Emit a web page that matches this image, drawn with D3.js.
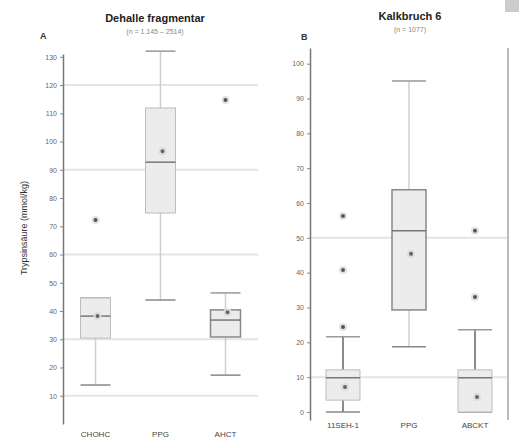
<!DOCTYPE html>
<html>
<head>
<meta charset="utf-8">
<script src="https://cdn.jsdelivr.net/npm/d3@7"></script>
<style>
  body { margin: 0; background: #fff; }
  text { font-family: "Liberation Sans", Arial, sans-serif; }
</style>
</head>
<body>
<svg id="chart" width="519" height="447"></svg>
<script>
// panel A
var catsA = ["CHOHC", "PPG", "AHCT"];
var boxA = [
  { lo: 13.8, q1: 30.4, med: 38.2, q3: 44.6, hi: 44.6 },
  { lo: 43.9, q1: 74.7, med: 92.7, q3: 111.9, hi: 132 },
  { lo: 17.3, q1: 30.8, med: 36.8, q3: 40.4, hi: 46.4 }
];
var meanA = [38.2, 96.6, 39.6];
var outA = [[72.2], [], [114.7]];
var ticksA = [10, 20, 30, 40, 50, 60, 70, 80, 90, 100, 110, 120, 130];
var gridA = [120, 90, 60, 30, 10];

// panel B
var catsB = ["11SEH-1", "PPG", "ABCKT"];
var boxB = [
  { lo: 0, q1: 3.4, med: 9.8, q3: 12.1, hi: 21.6 },
  { lo: 18.7, q1: 29.3, med: 52.0, q3: 63.8, hi: 95 },
  { lo: 0, q1: 0, med: 9.8, q3: 12.1, hi: 23.6 }
];
var meanB = [7.2, 45.4, 4.3];
var outB = [[56.3, 40.8, 24.4], [], [52.0, 33.0]];
var ticksB = [0, 10, 20, 30, 40, 50, 60, 70, 80, 90, 100];
var gridB = [50, 10];

var svg = d3.select("#chart");

function panel(opt) {
  var g = svg.append("g");

  var x = d3.scalePoint().domain(opt.cats).range(opt.xr).padding(0.5);
  var y = d3.scaleLinear().domain(opt.dom).range(opt.yr);

  // grid lines
  g.selectAll(".grid").data(opt.grid).enter().append("line")
    .attr("x1", opt.xr[0]).attr("x2", opt.xr[1])
    .attr("y1", function (d) { return y(d); })
    .attr("y2", function (d) { return y(d); })
    .style("stroke", "#e4e4e4").style("stroke-width", 2);

  var bw = opt.bw;
  var box = g.selectAll(".box").data(opt.box).enter().append("g")
    .attr("transform", function (d, i) { return "translate(" + x(opt.cats[i]) + ",0)"; });

  // whiskers
  box.append("line")
    .attr("x1", 0).attr("x2", 0)
    .attr("y1", function (d) { return y(d.hi); })
    .attr("y2", function (d) { return y(d.lo); })
    .style("stroke", function (d, i) { return opt.dark[i] ? "#666" : "#cfcfcf"; })
    .style("stroke-width", 1.5);
  box.append("line")
    .attr("x1", -bw / 2).attr("x2", bw / 2)
    .attr("y1", function (d) { return y(d.lo); })
    .attr("y2", function (d) { return y(d.lo); })
    .style("stroke", "#888").style("stroke-width", 1.5);
  box.append("line")
    .attr("x1", -bw / 2).attr("x2", bw / 2)
    .attr("y1", function (d) { return y(d.hi); })
    .attr("y2", function (d) { return y(d.hi); })
    .style("stroke", "#999").style("stroke-width", 1.5);

  // box
  box.append("rect")
    .attr("x", -bw / 2).attr("width", bw)
    .attr("y", function (d) { return y(d.q3); })
    .attr("height", function (d) { return y(d.q1) - y(d.q3); })
    .style("fill", "#ececec")
    .style("stroke", function (d, i) { return opt.edge[i] ? "#888" : "#bdbdbd"; })
    .style("stroke-width", function (d, i) { return opt.edge[i] ? 1.5 : 1; });

  box.append("line")
    .attr("x1", -bw / 2).attr("x2", bw / 2)
    .attr("y1", function (d) { return y(d.med); })
    .attr("y2", function (d) { return y(d.med); })
    .style("stroke", "#777").style("stroke-width", 1.5);

  // means
  g.selectAll(".mean").data(opt.mean).enter().append("circle")
    .attr("cx", function (d, i) { return x(opt.cats[i]) + 2; })
    .attr("cy", function (d) { return y(d); })
    .attr("r", 3)
    .style("fill", "#666").style("stroke", "#ddd").style("stroke-width", 2);

  // outliers
  opt.out.forEach(function (arr, i) {
    g.selectAll(null).data(arr).enter().append("circle")
      .attr("cx", x(opt.cats[i]))
      .attr("cy", function (d) { return y(d); })
      .attr("r", 3)
      .style("fill", "#555").style("stroke", "#e2e2e2").style("stroke-width", 2);
  });

  // axis
  var ax = g.append("g")
    .attr("transform", "translate(" + opt.xr[0] + ",0)")
    .call(d3.axisLeft(y).tickValues(opt.ticks).tickSize(3).tickSizeOuter(0));
  ax.select(".domain").style("stroke", "#777").style("stroke-width", 1.5);
  ax.selectAll(".tick line").style("stroke", "#888");
  ax.selectAll("text").style("font-size", "7px").style("fill", "#666");

  // category labels
  g.selectAll(".cat").data(opt.cats).enter().append("text")
    .attr("x", function (d) { return x(d); })
    .attr("y", opt.catY)
    .attr("text-anchor", "middle")
    .style("font-size", "8px").style("fill", "#444")
    .text(function (d) { return d; });

  g.append("text")
    .attr("x", opt.titleX).attr("y", opt.titleY)
    .attr("text-anchor", "middle")
    .style("font-size", "11px").style("font-weight", "bold").style("fill", "#222")
    .text(opt.title);
  g.append("text")
    .attr("x", opt.titleX).attr("y", opt.titleY + 12)
    .attr("text-anchor", "middle")
    .style("font-size", "7px").style("fill", "#888")
    .text(opt.sub);
  g.append("text")
    .attr("x", opt.letterX).attr("y", opt.letterY)
    .style("font-size", "9px").style("font-weight", "bold").style("fill", "#333")
    .text(opt.letter);
}

panel({
  cats: catsA, box: boxA, mean: meanA, out: outA, ticks: ticksA, grid: gridA,
  dom: [0, 131], yr: [424, 54], xr: [63, 258], bw: 30, catY: 437,
  dark: [false, false, false], edge: [false, false, true],
  title: "Dehalle fragmentar", sub: "(n = 1.145 – 2514)", titleX: 155, titleY: 22,
  letter: "A", letterX: 40, letterY: 39
});

panel({
  cats: catsB, box: boxB, mean: meanB, out: outB, ticks: ticksB, grid: gridB,
  dom: [-2.3, 104.5], yr: [420, 48], xr: [310, 508], bw: 34, catY: 428,
  dark: [true, false, true], edge: [false, true, false],
  title: "Kalkbruch 6", sub: "(n = 1077)", titleX: 410, titleY: 20,
  letter: "B", letterX: 301, letterY: 40
});

// right frame line of panel B
svg.append("line")
  .attr("x1", 508).attr("x2", 508).attr("y1", 48).attr("y2", 420)
  .style("stroke", "#bbb").style("stroke-width", 2);

// y label
svg.append("text")
  .attr("transform", "translate(27,228) rotate(-90)")
  .attr("text-anchor", "middle")
  .style("font-size", "9px").style("fill", "#333")
  .text("Trypsinsäure (mmol/kg)");

svg.append("rect").attr("x", 505).attr("y", 0).attr("width", 14).attr("height", 12).style("fill", "#ccc");
</script>
</body>
</html>
